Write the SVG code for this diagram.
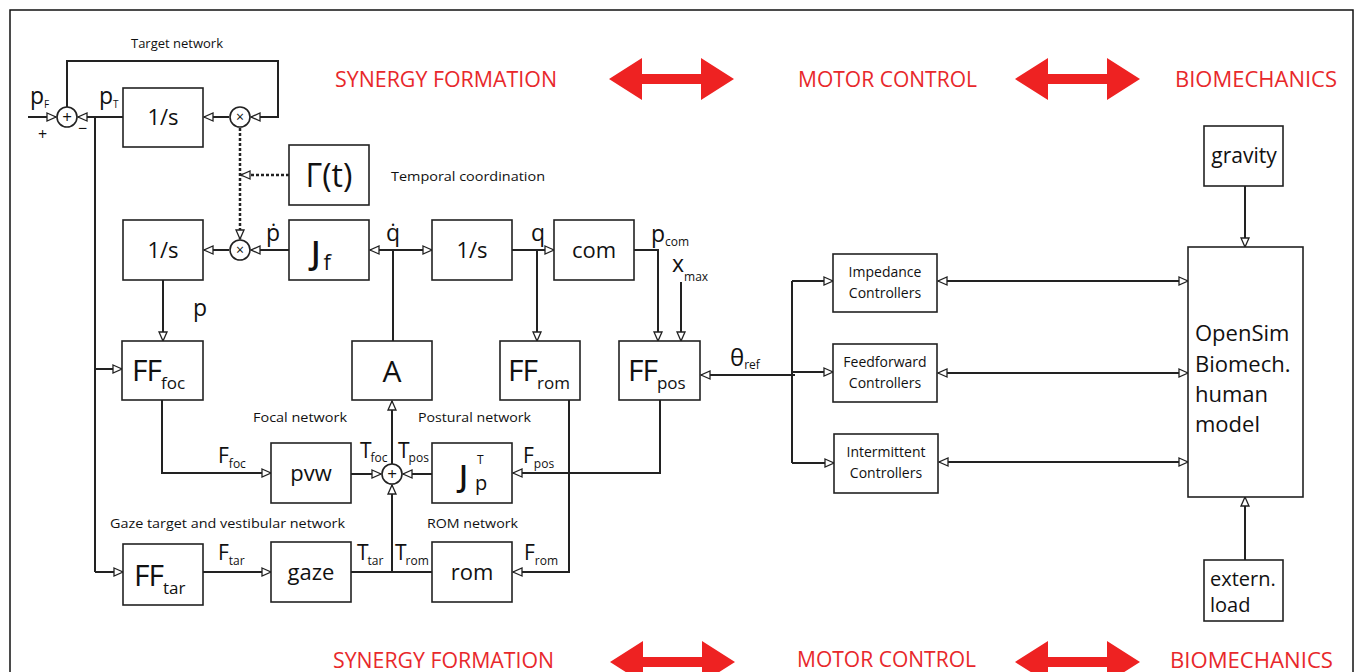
<svg xmlns="http://www.w3.org/2000/svg" width="1355" height="672" viewBox="0 0 1355 672">
<style>
.box{fill:#fff;stroke:#222;stroke-width:1.6}
.ln{fill:none;stroke:#222;stroke-width:2}
.dot{fill:none;stroke:#222;stroke-width:2.5;stroke-dasharray:3 2}
.t{font-family:"Open Sans","Noto Sans",sans-serif;fill:#111}
.c{text-anchor:middle}
.sm{font-size:13px}
.red{font-family:"Open Sans","Noto Sans",sans-serif;fill:#e8282b;font-size:21px}
.ra{fill:#ee2222}
</style>
<defs>
<marker id="a" markerWidth="11" markerHeight="10" refX="9" refY="4" orient="auto-start-reverse" markerUnits="userSpaceOnUse" viewBox="-1 -1 11 10">
<path d="M0,0 L9,4 L0,8 Z" fill="#fff" stroke="#222" stroke-width="1.3"/>
</marker>
</defs>
<rect x="10" y="10" width="1343" height="700" fill="#fff" stroke="#111" stroke-width="1.5"/>

<g id="headers">
<text class="red" x="335" y="87" textLength="222" lengthAdjust="spacingAndGlyphs">SYNERGY FORMATION</text>
<text class="red" x="798" y="87" textLength="179" lengthAdjust="spacingAndGlyphs">MOTOR CONTROL</text>
<text class="red" x="1175" y="87" textLength="162" lengthAdjust="spacingAndGlyphs">BIOMECHANICS</text>
<polygon class="ra" points="609,79 642,58 642,74 701,74 701,58 734,79 701,100 701,84 642,84 642,100"/>
<polygon class="ra" points="1015,79 1048,58 1048,74 1107,74 1107,58 1140,79 1107,100 1107,84 1048,84 1048,100"/>
<text class="red" x="333" y="668" textLength="221" lengthAdjust="spacingAndGlyphs">SYNERGY FORMATION</text>
<text class="red" x="797" y="667" textLength="179" lengthAdjust="spacingAndGlyphs">MOTOR CONTROL</text>
<text class="red" x="1170" y="668" textLength="163" lengthAdjust="spacingAndGlyphs">BIOMECHANICS</text>
<polygon class="ra" points="610,662 643,641 643,657 702,657 702,641 735,662 702,683 702,667 643,667 643,683"/>
<polygon class="ra" points="1015,662 1048,641 1048,657 1107,657 1107,641 1140,662 1107,683 1107,667 1048,667 1048,683"/>
</g>

<g id="connectors">
<path class="ln" d="M28,117 H56" marker-end="url(#a)"/>
<path class="ln" d="M123,117 H78" marker-end="url(#a)"/>
<path class="ln" d="M95,117 V572"/>
<path class="ln" d="M95,369 H122" marker-end="url(#a)"/>
<path class="ln" d="M95,572 H123" marker-end="url(#a)"/>
<path class="ln" d="M67,107 V61 H278 V117 H251" marker-end="url(#a)"/>
<path class="ln" d="M229,117 H204" marker-end="url(#a)"/>
<path class="dot" d="M240,128 V239" marker-end="url(#a)"/>
<path class="dot" d="M289,175 H241" marker-end="url(#a)"/>
<path class="ln" d="M289,250 H251" marker-end="url(#a)"/>
<path class="ln" d="M229,250 H204" marker-end="url(#a)"/>
<path class="ln" d="M370,250 H432" marker-start="url(#a)" marker-end="url(#a)"/>
<path class="ln" d="M393,341 V250"/>
<path class="ln" d="M512,250 H554" marker-end="url(#a)"/>
<path class="ln" d="M537,250 V341" marker-end="url(#a)"/>
<path class="ln" d="M634,250 H658 V341" marker-end="url(#a)"/>
<path class="ln" d="M681,282 V341" marker-end="url(#a)"/>
<path class="ln" d="M163,280 V341" marker-end="url(#a)"/>
<path class="ln" d="M162,400 V473 H271" marker-end="url(#a)"/>
<path class="ln" d="M351,474 H381" marker-end="url(#a)"/>
<path class="ln" d="M432,474 H403" marker-end="url(#a)"/>
<path class="ln" d="M660,400 V473 H513" marker-end="url(#a)"/>
<path class="ln" d="M392,464 V401" marker-end="url(#a)"/>
<path class="ln" d="M351,572 H432"/>
<path class="ln" d="M392,572 V485" marker-end="url(#a)"/>
<path class="ln" d="M203,572 H271" marker-end="url(#a)"/>
<path class="ln" d="M569,400 V572 H513" marker-end="url(#a)"/>
<path class="ln" d="M795,375 H701" marker-end="url(#a)"/>
<path class="ln" d="M792,281 V463"/>
<path class="ln" d="M792,281 H833" marker-end="url(#a)"/>
<path class="ln" d="M792,372 H833" marker-end="url(#a)"/>
<path class="ln" d="M792,463 H834" marker-end="url(#a)"/>
<path class="ln" d="M938,281 H1188" marker-start="url(#a)" marker-end="url(#a)"/>
<path class="ln" d="M938,373 H1188" marker-start="url(#a)" marker-end="url(#a)"/>
<path class="ln" d="M939,462 H1188" marker-start="url(#a)" marker-end="url(#a)"/>
<path class="ln" d="M1245,186 V247" marker-end="url(#a)"/>
<path class="ln" d="M1245,560 V497" marker-end="url(#a)"/>
</g>

<g id="target-network">
<text class="t sm c" x="177" y="48">Target network</text>
<text class="t" x="30" y="104" font-size="23">p<tspan font-size="10" dy="4">F</tspan></text>
<text class="t" x="99" y="104" font-size="23">p<tspan font-size="10" dy="4">T</tspan></text>
<text class="t" x="38" y="140" font-size="16">+</text>
<text class="t" x="78" y="134" font-size="16">−</text>
</g>
<g id="sum-top"><circle class="box" cx="67" cy="117" r="10"/><text class="t c" x="67" y="123" font-size="17">+</text></g>
<g id="int-top"><rect class="box" x="123" y="88" width="80" height="59"/><text class="t c" x="163" y="125" font-size="22">1/s</text></g>
<g id="mul-top"><circle class="box" cx="240" cy="117" r="10"/><text class="t c" x="240" y="122" font-size="14">×</text></g>
<g id="gamma"><rect class="box" x="289" y="145" width="80" height="60"/><text class="t c" x="329" y="187" font-size="32">Γ(t)</text>
<text class="t sm" x="391" y="181" textLength="154" lengthAdjust="spacingAndGlyphs">Temporal coordination</text></g>

<g id="int-p"><rect class="box" x="123" y="220" width="80" height="60"/><text class="t c" x="163" y="258" font-size="22">1/s</text></g>
<g id="mul-p"><circle class="box" cx="240" cy="250" r="10"/><text class="t c" x="240" y="255" font-size="14">×</text></g>
<g id="jf"><rect class="box" x="289" y="220" width="80" height="60"/><text class="t" x="311" y="264" font-size="32" font-weight="600">J<tspan font-size="22" font-weight="400" dx="3" dy="6">f</tspan></text>
<text class="t" x="266" y="241" font-size="23">ṗ</text></g>
<g id="int-q"><rect class="box" x="432" y="220" width="80" height="60"/><text class="t c" x="472" y="258" font-size="22">1/s</text>
<text class="t" x="386" y="241" font-size="23">q̇</text><text class="t" x="531" y="241" font-size="23">q</text></g>
<g id="com"><rect class="box" x="554" y="220" width="80" height="60"/><text class="t c" x="594" y="258" font-size="22">com</text>
<text class="t" x="651" y="242" font-size="23">p<tspan font-size="12" dy="4">com</tspan></text>
<text class="t" x="672" y="272" font-size="23">x<tspan font-size="12" dy="9">max</tspan></text></g>

<g id="ff-foc"><rect class="box" x="122" y="341" width="81" height="59"/><text class="t" x="132" y="381" font-size="30" letter-spacing="-1">FF<tspan font-size="17" letter-spacing="0" dy="8">foc</tspan></text>
<text class="t" x="193" y="316" font-size="23">p</text></g>
<g id="a-box"><rect class="box" x="352" y="341" width="80" height="59"/><text class="t c" x="392" y="382" font-size="30">A</text></g>
<g id="ff-rom"><rect class="box" x="500" y="341" width="80" height="59"/><text class="t" x="508" y="381" font-size="30" letter-spacing="-1">FF<tspan font-size="17" letter-spacing="0" dy="8">rom</tspan></text></g>
<g id="ff-pos"><rect class="box" x="619" y="341" width="81" height="59"/><text class="t" x="628" y="381" font-size="30" letter-spacing="-1">FF<tspan font-size="17" letter-spacing="0" dy="8">pos</tspan></text>
<text class="t" x="730" y="366" font-size="24">θ<tspan font-size="12" dy="3">ref</tspan></text></g>

<g id="focal-network">
<text class="t sm" x="253" y="422" textLength="94" lengthAdjust="spacingAndGlyphs">Focal network</text>
<text class="t sm" x="418" y="422" textLength="113" lengthAdjust="spacingAndGlyphs">Postural network</text>
<text class="t" x="218" y="463" font-size="21">F<tspan font-size="12" dy="5">foc</tspan></text>
<text class="t" x="360" y="458" font-size="21">T<tspan font-size="12" dy="4" dx="-1">foc</tspan></text>
<text class="t" x="398" y="458" font-size="21">T<tspan font-size="12" dy="4" dx="-1">pos</tspan></text>
<text class="t" x="523" y="463" font-size="21">F<tspan font-size="12" dy="5">pos</tspan></text>
</g>
<g id="pvw"><rect class="box" x="271" y="443" width="80" height="60"/><text class="t c" x="311" y="481" font-size="22">pvw</text></g>
<g id="sum-t"><circle class="box" cx="392" cy="474" r="10"/><text class="t c" x="392" y="480" font-size="17">+</text></g>
<g id="jp"><rect class="box" x="432" y="443" width="80" height="60"/><text class="t" x="459" y="487" font-size="30" font-weight="600">J</text><text class="t" x="475" y="490" font-size="20">p</text><text class="t" x="477" y="464" font-size="12">T</text></g>

<g id="gaze-network">
<text class="t sm" x="110" y="528" textLength="235" lengthAdjust="spacingAndGlyphs">Gaze target and vestibular network</text>
<text class="t sm" x="427" y="528" textLength="91" lengthAdjust="spacingAndGlyphs">ROM network</text>
<text class="t" x="218" y="560" font-size="21">F<tspan font-size="12" dy="5">tar</tspan></text>
<text class="t" x="357" y="560" font-size="21">T<tspan font-size="12" dy="5" dx="-1">tar</tspan></text>
<text class="t" x="395" y="560" font-size="21">T<tspan font-size="12" dy="5" dx="-1">rom</tspan></text>
<text class="t" x="524" y="560" font-size="21">F<tspan font-size="12" dy="5">rom</tspan></text>
</g>
<g id="ff-tar"><rect class="box" x="123" y="544" width="80" height="61"/><text class="t" x="134" y="586" font-size="30" letter-spacing="-1">FF<tspan font-size="17" letter-spacing="0" dy="8">tar</tspan></text></g>
<g id="gaze"><rect class="box" x="271" y="542" width="80" height="60"/><text class="t c" x="311" y="580" font-size="22">gaze</text></g>
<g id="rom"><rect class="box" x="432" y="542" width="80" height="60"/><text class="t c" x="472" y="580" font-size="22">rom</text></g>

<g id="impedance"><rect class="box" x="833" y="254" width="104" height="58"/><text class="t c" x="885" y="277" font-size="14">Impedance</text><text class="t c" x="885" y="298" font-size="14">Controllers</text></g>
<g id="feedforward"><rect class="box" x="833" y="344" width="104" height="58"/><text class="t c" x="885" y="367" font-size="14">Feedforward</text><text class="t c" x="885" y="388" font-size="14">Controllers</text></g>
<g id="intermittent"><rect class="box" x="834" y="434" width="104" height="59"/><text class="t c" x="886" y="457" font-size="14">Intermittent</text><text class="t c" x="886" y="478" font-size="14">Controllers</text></g>

<g id="opensim"><rect class="box" x="1188" y="247" width="115" height="250" stroke-width="2"/>
<text class="t" x="1195" y="341" font-size="22">OpenSim</text>
<text class="t" x="1195" y="372" font-size="22">Biomech.</text>
<text class="t" x="1195" y="402" font-size="22">human</text>
<text class="t" x="1195" y="432" font-size="22">model</text></g>
<g id="gravity"><rect class="box" x="1204" y="126" width="79" height="60"/><text class="t c" x="1244" y="163" font-size="21">gravity</text></g>
<g id="extern-load"><rect class="box" x="1204" y="560" width="79" height="61"/><text class="t" x="1210" y="586" font-size="20">extern.</text><text class="t" x="1210" y="612" font-size="20">load</text></g>
</svg>
